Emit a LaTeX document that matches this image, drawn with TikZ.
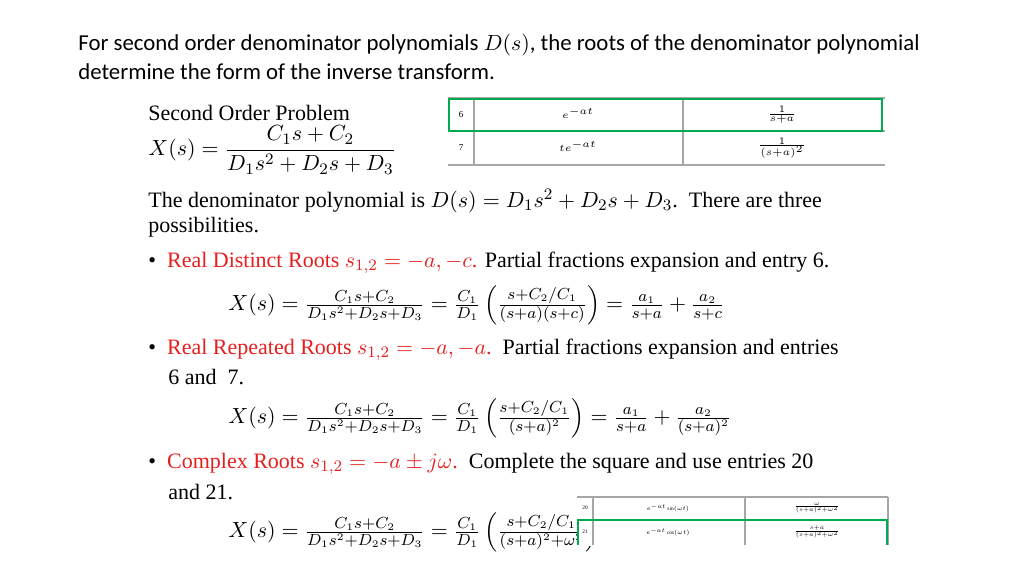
\documentclass[tikz,border=0pt]{standalone}
\usepackage{fontspec}
\setmainfont{Liberation Serif}
\newfontfamily\titlefont{Carlito}
\usepackage{amsmath}
\begin{document}
\begin{tikzpicture}[x=0.5pt,y=-0.5pt,
  body/.style={anchor=west,inner sep=0pt,font=\fontsize{11}{12}\selectfont},
  eqn/.style={anchor=west,inner sep=0pt,font=\fontsize{11}{12}\selectfont},
  tbl/.style={font=\fontsize{4.5}{5}\selectfont,inner sep=0pt},
  grn/.style={draw={rgb,255:red,0;green,170;blue,80},line width=1.2pt}]
\useasboundingbox (0,0) rectangle (1024,576);
\definecolor{rd}{RGB}{230,30,30}
\node[body,font=\titlefont\fontsize{11.4}{12}\selectfont] (t1) at (78,45) {For second order denominator polynomials $D(s)$, the roots of the denominator polynomial};
\node[body,font=\titlefont\fontsize{11.4}{12}\selectfont] (t2) at (78,72) {determine the form of the inverse transform.};
\node[body] (sop) at (148,113) {Second Order Problem};
\node[eqn] (e0) at (148,150) {$X(s)=\dfrac{C_1s+C_2}{D_1s^2+D_2s+D_3}$};
% table 1
\draw[gray!70,line width=0.6pt] (448,98) -- (885,98) (448,131)--(885,131) (448,165)--(885,165)
  (474,98)--(474,165) (683,98)--(683,165);
\node[tbl] (n6) at (461,115) {6};
\node[tbl] (f6) at (578,113) {$e^{-at}$};
\node[tbl] (g6) at (782,115) {$\frac{1}{s+a}$};
\node[tbl] (n7) at (461,148) {7};
\node[tbl] (f7) at (578,146) {$te^{-at}$};
\node[tbl] (g7) at (782,148) {$\frac{1}{(s+a)^2}$};
\draw[grn] (449,99) rectangle (882,131);
\node[body] (d1) at (148,201) {The denominator polynomial is $D(s)=D_1s^2+D_2s+D_3$.\ \ There are three};
\node[body] (d2) at (148,227) {possibilities.};
\node[body] (b1) at (148,263) {\textbullet\ \ \textcolor{rd}{Real Distinct Roots $s_{1,2}=-a,-c$.} Partial fractions expansion and entry 6.};
\node[eqn] (e1) at (228,305) {$X(s)=\frac{C_1s+C_2}{D_1s^2+D_2s+D_3}=\frac{C_1}{D_1}\left(\frac{s+C_2/C_1}{(s+a)(s+c)}\right)=\frac{a_1}{s+a}+\frac{a_2}{s+c}$};
\node[body] (b2) at (148,350) {\textbullet\ \ \textcolor{rd}{Real Repeated Roots $s_{1,2}=-a,-a$.}\ \ Partial fractions expansion and entries};
\node[body] (b2b) at (168,377) {6 and\ \ 7.};
\node[eqn] (e2) at (228,418) {$X(s)=\frac{C_1s+C_2}{D_1s^2+D_2s+D_3}=\frac{C_1}{D_1}\left(\frac{s+C_2/C_1}{(s+a)^2}\right)=\frac{a_1}{s+a}+\frac{a_2}{(s+a)^2}$};
\node[body] (b3) at (148,464) {\textbullet\ \ \textcolor{rd}{Complex Roots $s_{1,2}=-a\pm j\omega$.}\ \ Complete the square and use entries 20};
\node[body] (b3b) at (168,492) {and 21.};
\node[eqn] (e3) at (228,532) {$X(s)=\frac{C_1s+C_2}{D_1s^2+D_2s+D_3}=\frac{C_1}{D_1}\left(\frac{s+C_2/C_1}{(s+a)^2+\omega^2}\right)$};
% table 2
\fill[white] (577,497) rectangle (890,546);
\draw[gray!70,line width=0.6pt] (577,497)--(888,497) (577,520)--(888,520)
  (593,497)--(593,545) (745,497)--(745,545) (888,497)--(888,545);
\node[tbl] (n20) at (585,508) {\scalebox{0.6}{20}};
\node[tbl] (f20) at (668,508) {\scalebox{0.6}{$e^{-at}\sin(\omega t)$}};
\node[tbl] (g20) at (817,508) {\scalebox{0.6}{$\frac{\omega}{(s+a)^2+\omega^2}$}};
\node[tbl] (n21) at (585,532) {\scalebox{0.6}{21}};
\node[tbl] (f21) at (668,532) {\scalebox{0.6}{$e^{-at}\cos(\omega t)$}};
\node[tbl] (g21) at (817,532) {\scalebox{0.6}{$\frac{s+a}{(s+a)^2+\omega^2}$}};
\draw[grn] (578,545) -- (578,520) -- (887,520) -- (887,545);
\end{tikzpicture}
\end{document}
